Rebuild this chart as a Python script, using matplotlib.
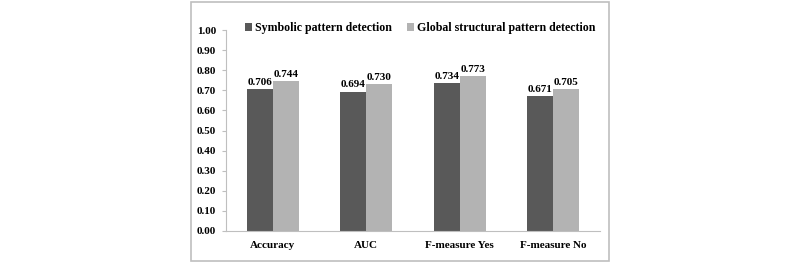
import matplotlib
matplotlib.use("Agg")
import matplotlib.pyplot as plt
from matplotlib.patches import Rectangle
import numpy as np

categories = ["Accuracy", "AUC", "F-measure Yes", "F-measure No"]
symbolic = [0.706, 0.694, 0.734, 0.671]
global_struct = [0.744, 0.730, 0.773, 0.705]
series_names = ["Symbolic pattern detection", "Global structural pattern detection"]
yticks = [0.0, 0.1, 0.2, 0.3, 0.4, 0.5, 0.6, 0.7, 0.8, 0.9, 1.0]

plt.rcParams['font.family'] = ['Liberation Serif', 'DejaVu Serif']
plt.rcParams['font.weight'] = 'bold'

fig = plt.figure(figsize=(8, 2.63), dpi=100)
fig.patches.append(Rectangle((191/800, 1 - 261/263), (609-191)/800, (260-1)/263,
                             transform=fig.transFigure, fill=False,
                             edgecolor='#bfbfbf', linewidth=1.2))
ax = fig.add_axes([226/800, 1 - 231/263, (600-226)/800, (231-30)/263])

x = np.arange(len(categories))
w = 0.28
c1, c2 = '#595959', '#b3b3b3'
b1 = ax.bar(x - w/2, symbolic, w, color=c1, label=series_names[0])
b2 = ax.bar(x + w/2, global_struct, w, color=c2, label=series_names[1])
for bars, vals in ((b1, symbolic), (b2, global_struct)):
    for r, v in zip(bars, vals):
        ax.text(r.get_x() + r.get_width()/2, v + 0.01, f"{v:.3f}",
                ha='center', va='bottom', fontsize=8, fontweight='bold')

ax.set_xlim(-0.5, len(categories) - 0.5)
ax.set_ylim(0, 1.0)
ax.set_yticks(yticks)
ax.set_yticklabels([f"{t:.2f}" for t in yticks], fontsize=8, fontweight='bold')
ax.set_xticks(x)
ax.set_xticklabels(categories, fontsize=8, fontweight='bold')
ax.tick_params(axis='x', length=0, pad=7)
ax.tick_params(axis='y', length=3, color='#bfbfbf', pad=4)
for s in ('top', 'right'):
    ax.spines[s].set_visible(False)
for s in ('left', 'bottom'):
    ax.spines[s].set_color('#bfbfbf')
    ax.spines[s].set_linewidth(0.8)

leg = ax.legend(loc='center', bbox_to_anchor=(0.519, 1.01), ncol=2, frameon=False,
                fontsize=8.6, handlelength=0.6, handleheight=0.6, handletextpad=0.25,
                columnspacing=1.3, borderaxespad=0)
for t in leg.get_texts():
    t.set_fontweight('bold')

fig.savefig("out.png", dpi=100)
